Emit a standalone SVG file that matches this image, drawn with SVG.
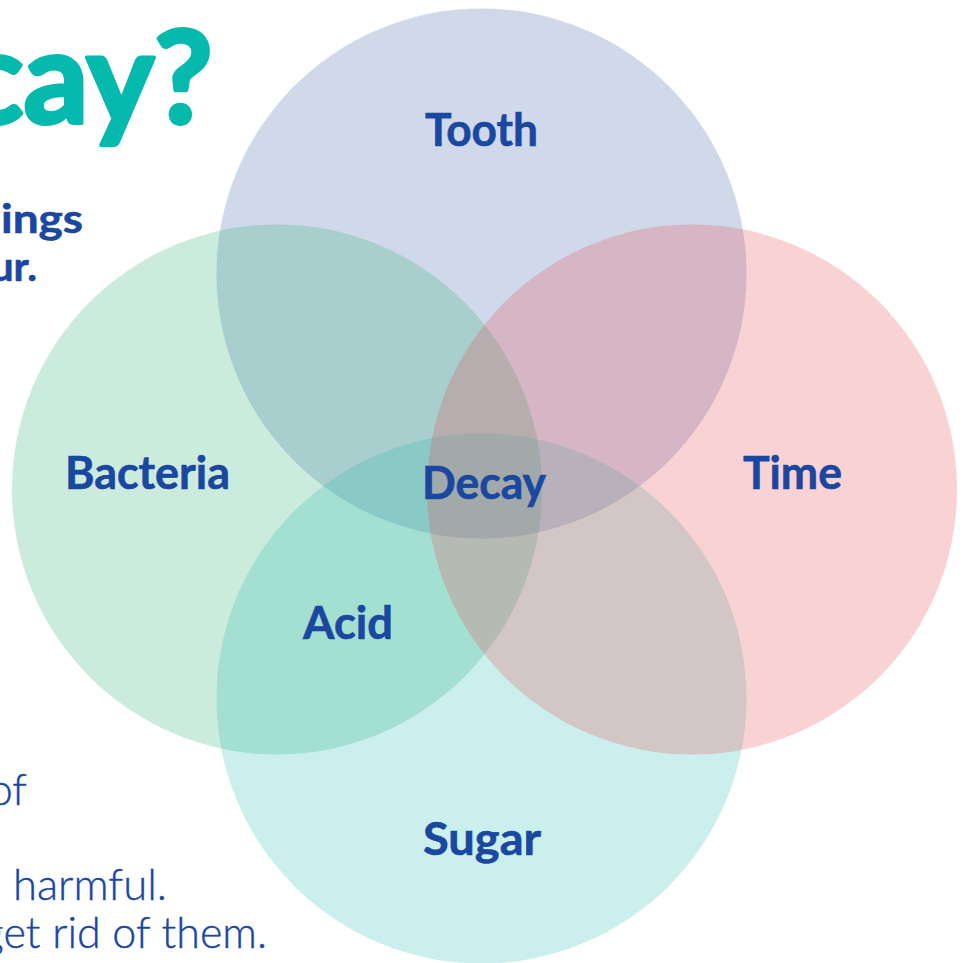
<svg xmlns="http://www.w3.org/2000/svg" width="965" height="963" viewBox="0 0 965 963">
<style>
.c{opacity:0.25}
.lbl{font-family:Lato,"Liberation Sans",sans-serif;font-weight:700;font-size:45px;fill:#1a47a0;stroke:#1a47a0;stroke-width:0.6;text-anchor:middle}
.side{font-family:Lato,"Liberation Sans",sans-serif;font-weight:700;font-size:41px;fill:#1a47a0;stroke:#1a47a0;stroke-width:0.6}
.body{font-family:Lato,"Liberation Sans",sans-serif;font-weight:300;font-size:43px;fill:#1a47a0;stroke:#1a47a0;stroke-width:0.4}
.title{font-family:Lato,"Liberation Sans",sans-serif;font-weight:700;font-size:128px;fill:#06b9ad;stroke:#06b9ad;stroke-width:4;stroke-linejoin:round;text-anchor:end}
</style>
<rect width="965" height="963" fill="#ffffff"/>
<g id="page-text">
<text class="title" x="213" y="123">cay?</text>
<text class="side" x="1" y="233" textLength="82" lengthAdjust="spacingAndGlyphs">ings</text>
<text class="side" x="37" y="281" text-anchor="end">ur.</text>
<text class="body" x="27" y="805" text-anchor="end">of</text>
<text class="body" x="13" y="900" textLength="154" lengthAdjust="spacingAndGlyphs">harmful.</text>
<text class="body" x="267" y="948" text-anchor="end">get rid of them.</text>
</g>
<g id="circles">
<g id="tooth"><circle class="c" cx="481.5" cy="273.5" r="265" fill="#4367ab"/></g>
<g id="bacteria"><circle class="c" cx="277" cy="489.5" r="265" fill="#2faf77"/></g>
<g id="sugar"><circle class="c" cx="481.5" cy="698.5" r="265" fill="#2fbfb3"/></g>
<g id="time"><circle class="c" cx="692" cy="489.5" r="265" fill="#e74b53"/></g>
</g>
<g id="labels">
<text class="lbl" x="481.5" y="146" textLength="113" lengthAdjust="spacingAndGlyphs">Tooth</text>
<text class="lbl" x="147.5" y="489" textLength="165" lengthAdjust="spacingAndGlyphs">Bacteria</text>
<text class="lbl" x="792.5" y="489" textLength="99" lengthAdjust="spacingAndGlyphs">Time</text>
<text class="lbl" x="484" y="499" textLength="124" lengthAdjust="spacingAndGlyphs">Decay</text>
<text class="lbl" x="348" y="639" textLength="90" lengthAdjust="spacingAndGlyphs">Acid</text>
<text class="lbl" x="482" y="855" textLength="118" lengthAdjust="spacingAndGlyphs">Sugar</text>
</g>
</svg>
